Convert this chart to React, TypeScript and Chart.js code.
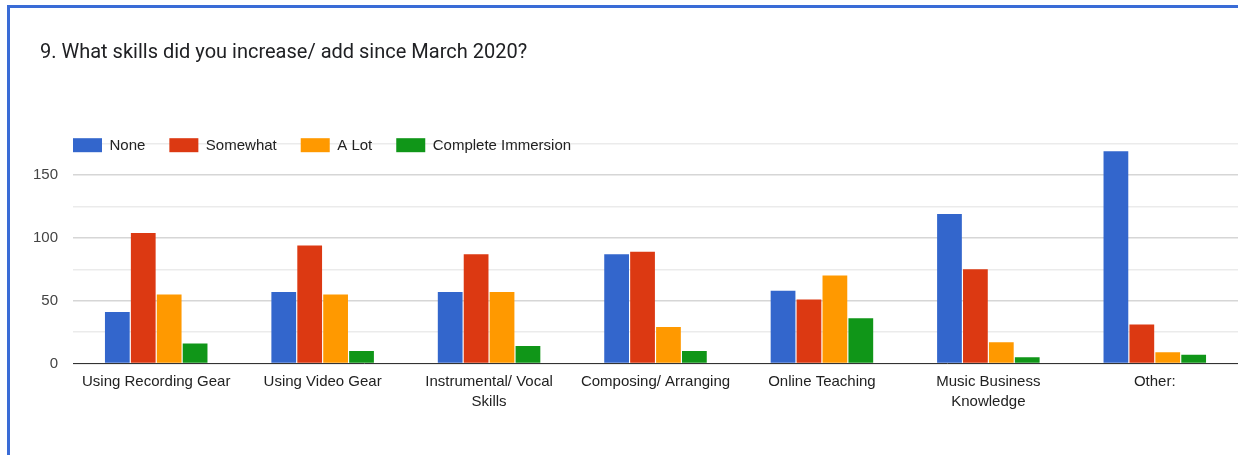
import React, { useEffect, useRef } from "react";
import { Chart, registerables } from "chart.js";

Chart.register(...registerables);

const TITLE = "9. What skills did you increase/ add since March 2020?";
const categories: (string | string[])[] = [
  "Using Recording Gear",
  "Using Video Gear",
  ["Instrumental/ Vocal", "Skills"],
  "Composing/ Arranging",
  "Online Teaching",
  ["Music Business", "Knowledge"],
  "Other:",
];
const seriesNames = ["None", "Somewhat", "A Lot", "Complete Immersion"];
const noneValues = [41, 57, 57, 87, 58, 119, 169];
const somewhatValues = [104, 94, 87, 89, 51, 75, 31];
const aLotValues = [55, 55, 57, 29, 70, 17, 9];
const completeImmersionValues = [16, 10, 14, 10, 36, 5, 7];
const seriesColors = ["#3366cc", "#dc3912", "#ff9900", "#109618"];
const yMax = 175;
const yStep = 25;
const yLabelStep = 50;

const FONT = "'Liberation Sans', Arial, sans-serif";

// Legend drawn inside the top of the plot area (as in the original chart)
const insideLegend = {
  id: "insideLegend",
  afterDraw(chart: any) {
    const ctx = chart.ctx;
    const area = chart.chartArea;
    const boxW = 29;
    const boxH = 14;
    const fontSize = 15;
    const gap = 24;
    let x = area.left;
    const yTop = area.top - 5.5;
    ctx.save();
    ctx.font = `${fontSize}px ${FONT}`;
    ctx.textBaseline = "middle";
    ctx.textAlign = "left";
    chart.data.datasets.forEach((ds: any) => {
      ctx.fillStyle = ds.backgroundColor;
      ctx.fillRect(x, yTop, boxW, boxH);
      ctx.fillStyle = "#222";
      const tx = x + boxW + fontSize / 2;
      ctx.fillText(ds.label, tx, yTop + boxH / 2 + 0.5);
      const tw = ctx.measureText(ds.label).width;
      x = tx + tw + gap;
    });
    ctx.restore();
  },
};

export default function App() {
  const canvasRef = useRef<HTMLCanvasElement | null>(null);

  useEffect(() => {
    const canvas = canvasRef.current;
    if (!canvas) return;
    const values = [noneValues, somewhatValues, aLotValues, completeImmersionValues];
    const chart = new Chart(canvas, {
      type: "bar",
      data: {
        labels: categories,
        datasets: seriesNames.map((name, i) => ({
          label: name,
          data: values[i],
          backgroundColor: seriesColors[i],
          borderWidth: 0,
          categoryPercentage: 0.623,
          barPercentage: 0.955,
        })),
      },
      plugins: [insideLegend],
      options: {
        responsive: false,
        animation: false,
        devicePixelRatio: 1,
        layout: { padding: { left: 0, top: 143.7, right: 0, bottom: 0 } },
        plugins: {
          title: { display: false },
          tooltip: { enabled: false },
          legend: { display: false },
        },
        scales: {
          x: {
            grid: { display: false },
            border: { display: true, color: "#333", width: 1 },
            ticks: {
              autoSkip: false,
              maxRotation: 0,
              minRotation: 0,
              padding: 0,
              color: "#222",
              font: { family: FONT, size: 15, lineHeight: "20px" },
            },
            afterFit: (s: any) => {
              s.height = 91.5;
            },
          },
          y: {
            min: 0,
            max: yMax,
            border: { display: false },
            grid: {
              drawTicks: false,
              color: (ctx: any) =>
                ctx.tick && ctx.tick.value % yLabelStep === 0 ? "#d6d6d6" : "#ebebeb",
              lineWidth: 1.5,
            },
            ticks: {
              stepSize: yStep,
              padding: 15,
              color: "#444",
              font: { family: FONT, size: 15 },
              callback: (v: any) => (Number(v) % yLabelStep === 0 ? String(v) : ""),
            },
            afterFit: (s: any) => {
              s.width = 73;
            },
          },
        },
      },
    });
    return () => chart.destroy();
  }, []);

  return (
    <div
      style={{
        position: "absolute",
        left: 0,
        top: 0,
        width: 1238,
        height: 455,
        overflow: "hidden",
        background: "#fff",
      }}
    >
      <canvas
        ref={canvasRef}
        width={1238}
        height={455}
        style={{ position: "absolute", left: 0, top: 0, width: 1238, height: 455 }}
      />
      <div
        style={{
          position: "absolute",
          left: 7,
          top: 5,
          width: 1231,
          height: 3,
          background: "#3a6cd6",
        }}
      />
      <div
        style={{
          position: "absolute",
          left: 7,
          top: 5,
          width: 3,
          height: 450,
          background: "#3a6cd6",
        }}
      />
      <div
        style={{
          position: "absolute",
          left: 40,
          top: 39,
          fontFamily: "Roboto, 'Noto Sans', sans-serif",
          fontSize: 20,
          lineHeight: "24px",
          color: "#202124",
          whiteSpace: "nowrap",
        }}
      >
        {TITLE}
      </div>
    </div>
  );
}
